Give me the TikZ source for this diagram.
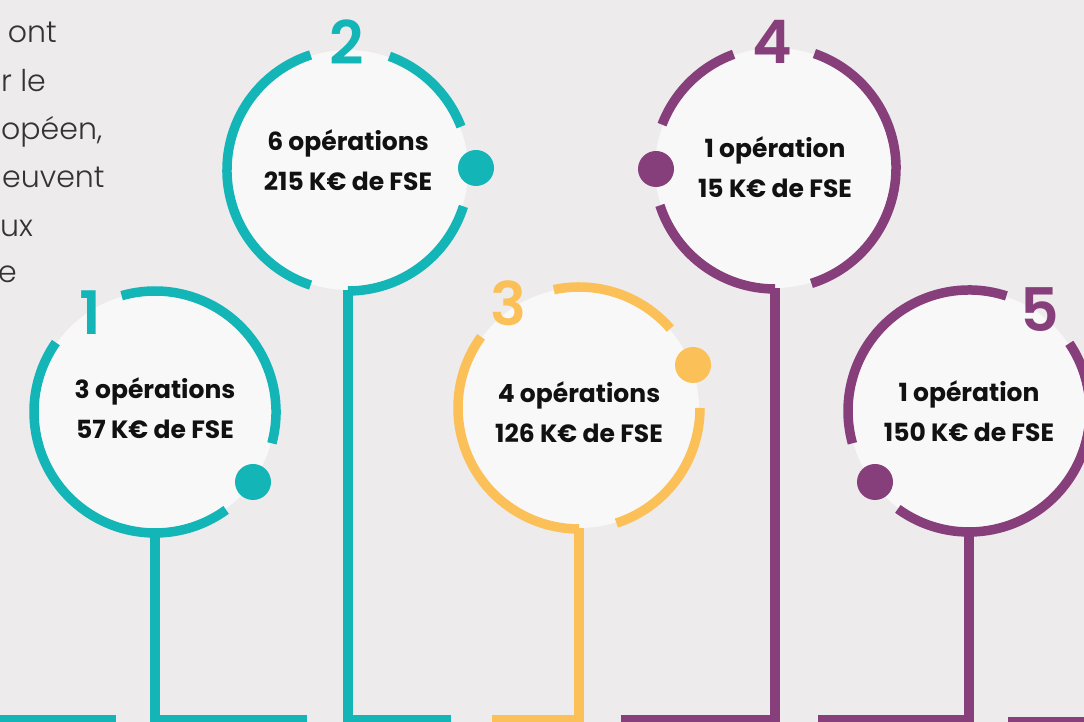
\documentclass[tikz,border=0pt]{standalone}
\usepackage{fontspec}
\setmainfont{Poppins}
\newfontfamily\semifont{Poppins SemiBold}
\newfontfamily\lightfont{Poppins Light}
\definecolor{teal1}{HTML}{13B5B7}
\definecolor{gold1}{HTML}{FBC057}
\definecolor{plum1}{HTML}{873F7C}
\definecolor{bg1}{HTML}{EDEBEC}
\definecolor{disc1}{HTML}{F8F8F8}
\definecolor{ink1}{HTML}{111111}
\definecolor{gray1}{HTML}{333333}
\begin{document}
\begin{tikzpicture}[x=1pt,y=1pt,
  disc/.style={circle, fill=disc1, minimum size=240pt, inner sep=0pt},
  label1/.style={align=center, font=\bfseries\fontsize{25}{40}\selectfont, text=ink1, inner sep=0pt},
  ring/.style={line width=9.5pt},
  stem/.style={line width=9.5pt},
  dotc/.style={circle, minimum size=36pt, inner sep=0pt},
  numeral/.style={font=\semifont\fontsize{60}{60}\selectfont, inner sep=0pt},
  intro/.style={font=\lightfont\fontsize{30}{40}\selectfont, text=gray1, inner sep=0pt}]
\useasboundingbox (0,0) rectangle (1084,722);
\fill[bg1] (0,0) rectangle (1084,722);
\clip (0,0) rectangle (1084,722);

% intro text (cut at left edge)
\node[intro,anchor=base east] (i1) at (57,679) {ont};
\node[intro,anchor=base west] (i2) at (1,630) {r le};
\node[intro,anchor=base west] (i3) at (1,582) {opéen,};
\node[intro,anchor=base west] (i4) at (2,534) {euvent};
\node[intro,anchor=base east] (i5) at (33,485) {ux};
\node[intro,anchor=base east] (i6) at (17,439) {e};

% discs
\node[disc] (n1) at (155,310) {};
\node[disc] (n2) at (348,552) {};
\node[disc] (n3) at (579,314) {};
\node[disc] (n4) at (775,554) {};
\node[disc] (n5) at (969,311) {};

% bottom line ends
\coordinate (b0a) at (0,2);
\coordinate (b0b) at (116,2);
\coordinate (b1) at (307,2);
\coordinate (b2) at (451,2);
\coordinate (b3) at (492,2);
\coordinate (b4) at (621,2);
\coordinate (b5) at (818,2);
\coordinate (b6a) at (1008,0);
\coordinate (b6b) at (1084,0);

% stems
\draw[stem,teal1] (b0a) -- (b0b);
\draw[stem,teal1] (n1.south) -- (n1.south |- b1) -- (b1);
\draw[stem,teal1] (n2.south) -- (n2.south |- b2) -- (b2);
\draw[stem,gold1] (n3.south) -- (n3.south |- b3) -- (b3);
\draw[stem,plum1] (n4.south) -- (n4.south |- b4) -- (b4);
\draw[stem,plum1] (n5.south) -- (n5.south |- b5) -- (b5);
\draw[stem,plum1] (b6a) -- (b6b);

% rings
\foreach \a/\b in {-15/106,145/306}
  \draw[ring,teal1] ([shift={(\a:121)}]n1.center) arc[start angle=\a,end angle=\b,radius=121];
\foreach \a/\b in {21/70,108/252,-90/-17.5}
  \draw[ring,teal1] ([shift={(\a:121)}]n2.center) arc[start angle=\a,end angle=\b,radius=121];
\foreach \a/\b in {41/102,144/270,-72/0}
  \draw[ring,gold1] ([shift={(\a:121)}]n3.center) arc[start angle=\a,end angle=\b,radius=121];
\foreach \a/\b in {110/159,198/270,-72.5/71}
  \draw[ring,plum1] ([shift={(\a:121)}]n4.center) arc[start angle=\a,end angle=\b,radius=121];
\foreach \a/\b in {72/195.5,234/394}
  \draw[ring,plum1] ([shift={(\a:121)}]n5.center) arc[start angle=\a,end angle=\b,radius=121];

% dots
\node[dotc,fill=teal1] (d1) at (253,240) {};
\node[dotc,fill=teal1] (d2) at (476,554) {};
\node[dotc,fill=gold1] (d3) at (693,357) {};
\node[dotc,fill=plum1] (d4) at (656,553) {};
\node[dotc,fill=plum1] (d5) at (875,240) {};

% numerals
\node[numeral,text=teal1] (m1) at (90,409) {1};
\node[numeral,text=teal1] (m2) at (347,680) {2};
\node[numeral,text=gold1] (m3) at (508,419) {3};
\node[numeral,text=plum1] (m4) at (772,680) {4};
\node[numeral,text=plum1] (m5) at (1040,412) {5};

% labels
\node[label1] (t1) at ([yshift=4]n1.center) {3 opérations\\57 K€ de FSE};
\node[label1] (t2) at ([yshift=10]n2.center) {6 opérations\\215 K€ de FSE};
\node[label1] (t3) at ([yshift=-4]n3.center) {4 opérations\\126 K€ de FSE};
\node[label1] (t4) at ([yshift=1]n4.center) {1 opération\\15 K€ de FSE};
\node[label1] (t5) at (n5.center) {1 opération\\150 K€ de FSE};
\end{tikzpicture}
\end{document}
